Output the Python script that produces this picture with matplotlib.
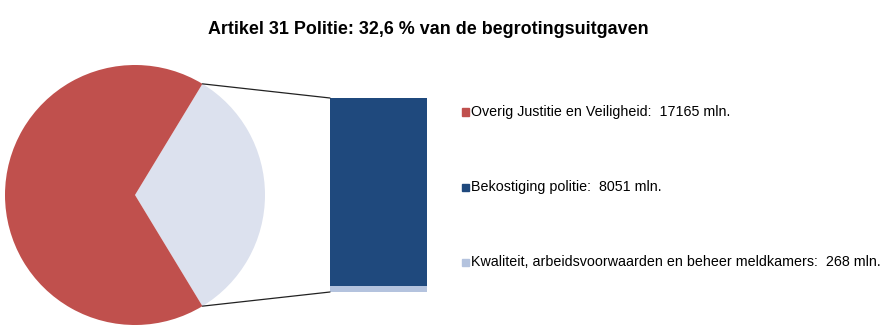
import matplotlib.pyplot as plt
import numpy as np
from matplotlib.patches import ConnectionPatch

plt.rcParams['font.family'] = ['Liberation Sans', 'DejaVu Sans']

title = 'Artikel 31 Politie: 32,6 % van de begrotingsuitgaven'
labels = ['Overig Justitie en Veiligheid', 'Bekostiging politie',
          'Kwaliteit, arbeidsvoorwaarden en beheer meldkamers']
values = [17165, 8051, 268]
colors = ['#C0504D', '#1F497D', '#B4C3DE']
pie_rest_color = '#DCE1EE'

W, H = 892, 330
fig = plt.figure(figsize=(W / 100, H / 100), dpi=100)

# pie: overig vs politie total
politie = values[1] + values[2]
total = values[0] + politie
half = 180 * politie / total
ax1 = fig.add_axes([5 / W, (H - 325) / H, 260 / W, 260 / H])
ax1.pie([politie, values[0]], colors=[pie_rest_color, colors[0]],
        startangle=-half, counterclock=True, radius=1)
ax1.set_xlim(-1, 1)
ax1.set_ylim(-1, 1)
ax1.set_aspect('equal')
ax1.axis('off')

# stacked bar for politie breakdown
ax2 = fig.add_axes([330 / W, (H - 292) / H, 97 / W, 194 / H])
ax2.bar(0, values[2], width=1, color=colors[2])
ax2.bar(0, values[1], bottom=values[2], width=1, color=colors[1])
ax2.set_xlim(-0.5, 0.5)
ax2.set_ylim(0, politie)
ax2.axis('off')

# connector lines
th = np.radians(half)
for sgn, yb in [(1, politie), (-1, 0)]:
    con = ConnectionPatch(xyA=(np.cos(th), sgn * np.sin(th)), coordsA=ax1.transData,
                          xyB=(-0.5, yb), coordsB=ax2.transData,
                          color='#222222', lw=0.9)
    fig.add_artist(con)

fig.text(428 / W, 1 - 30 / H, title, ha='center', va='center',
         fontsize=12.9, fontweight='bold')

# legend
rows_y = [112, 187, 262]
for lab, val, c, y in zip(labels, values, colors, rows_y):
    fig.patches.append(plt.Rectangle((462 / W, 1 - (y + 3.5) / H), 7 / W, 7 / H,
                                     transform=fig.transFigure, color=c, figure=fig))
    fig.text(471 / W, 1 - y / H, f'{lab}:  {val} mln.', ha='left', va='center',
             fontsize=10.3)

fig.savefig('out.png', dpi=100)
